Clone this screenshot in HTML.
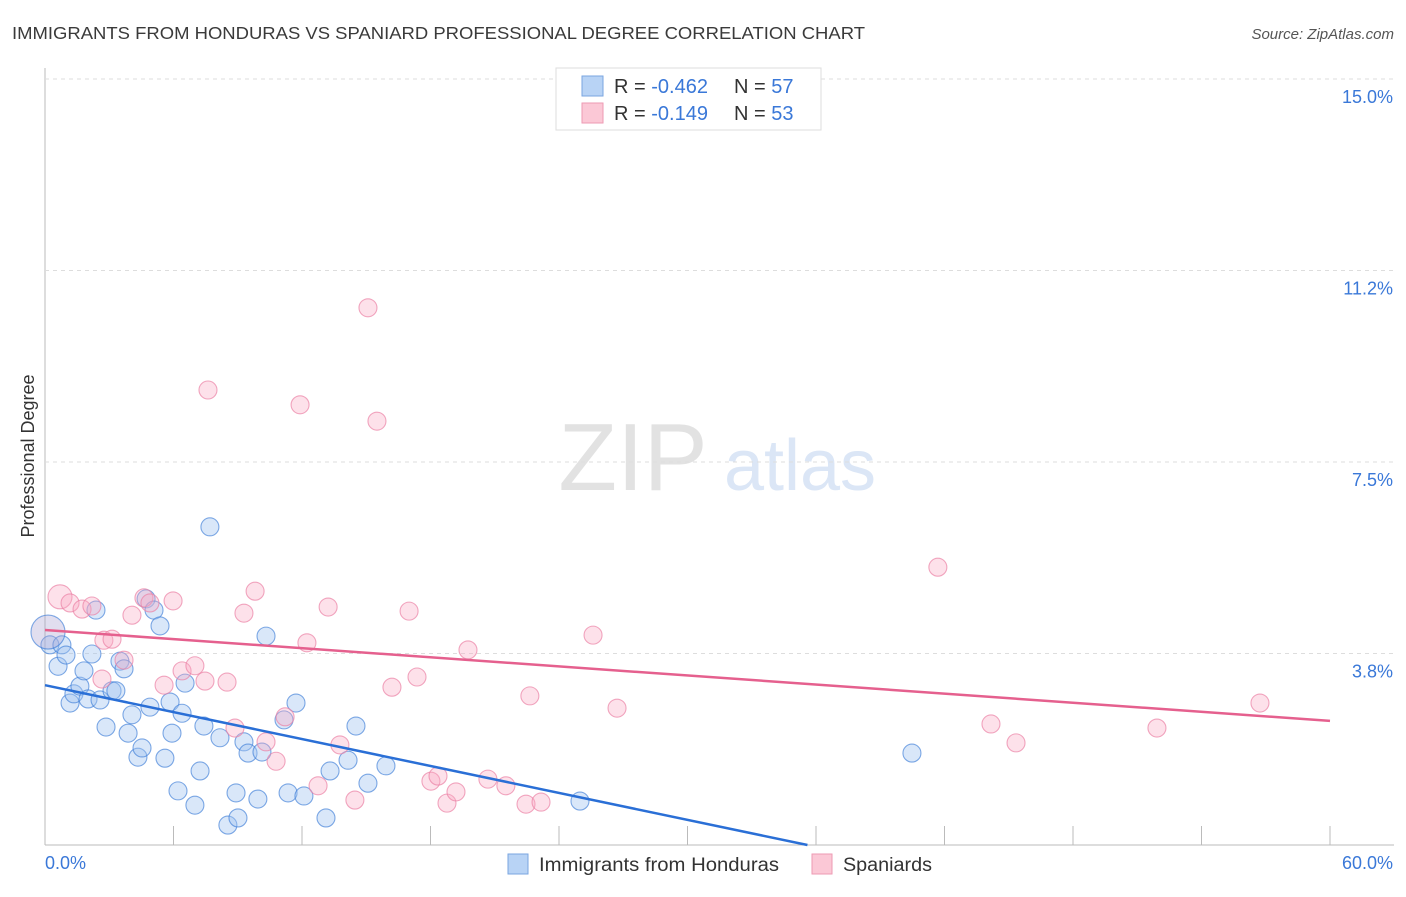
<!DOCTYPE html>
<html><head><meta charset="utf-8"><style>
body{margin:0;background:#fff;font-family:"Liberation Sans",sans-serif}
svg text{font-family:"Liberation Sans",sans-serif}
</style></head><body>
<svg id="chart" width="1406" height="892">
<text x="12" y="39" font-size="17.5" fill="#3a3a3a" textLength="853" lengthAdjust="spacingAndGlyphs">IMMIGRANTS FROM HONDURAS VS SPANIARD PROFESSIONAL DEGREE CORRELATION CHART</text>
<text x="1394" y="39" font-size="15" fill="#555" text-anchor="end" font-style="italic">Source: ZipAtlas.com</text>
<text x="633" y="490" font-size="96" fill="#e2e2e2" font-family="Liberation Serif" text-anchor="middle">ZIP</text>
<text x="800" y="490" font-size="72" fill="#dbe6f6" text-anchor="middle">atlas</text>
<text transform="translate(34,456) rotate(-90)" font-size="18" fill="#333" text-anchor="middle">Professional Degree</text>
<g id="grid"></g><g id="pts"></g><g id="lines"></g>
<g>
<rect x="556" y="68" width="265" height="62" fill="#fff" stroke="#ddd"/>
<rect x="582" y="76" width="21" height="20" fill="#b8d3f5" stroke="#7aa6e0"/>
<rect x="582" y="103" width="21" height="20" fill="#fbc8d6" stroke="#ee9ab3"/>
<text x="614" y="93" font-size="20" fill="#333">R = <tspan fill="#3a78d8">-0.462</tspan></text>
<text x="734" y="93" font-size="20" fill="#333">N = <tspan fill="#3a78d8">57</tspan></text>
<text x="614" y="120" font-size="20" fill="#333">R =  <tspan fill="#3a78d8">-0.149</tspan></text>
<text x="734" y="120" font-size="20" fill="#333">N = <tspan fill="#3a78d8">53</tspan></text>
</g>
<g>
<rect x="508" y="854" width="20" height="20" fill="#b8d3f5" stroke="#7aa6e0"/>
<text x="539" y="871" font-size="19" fill="#333" textLength="240" lengthAdjust="spacingAndGlyphs">Immigrants from Honduras</text>
<rect x="812" y="854" width="20" height="20" fill="#fbc8d6" stroke="#ee9ab3"/>
<text x="843" y="871" font-size="19" fill="#333" textLength="89" lengthAdjust="spacingAndGlyphs">Spaniards</text>
</g>
</svg>
<script>
const yTicks=[3.75,7.5,11.25,15];
const yTickLabels=["3.8%","7.5%","11.2%","15.0%"];
const xTickLabels=["0.0%","60.0%"];
const blueX=[0.23,0.61,0.79,0.98,1.17,1.35,1.63,1.82,2.01,2.19,2.38,2.57,2.85,3.13,3.31,3.50,3.69,3.88,4.06,4.34,4.53,4.72,4.90,5.09,5.37,5.60,5.84,5.93,6.21,6.40,6.54,7.00,7.24,7.42,7.70,8.17,8.54,8.92,9.01,9.29,9.48,9.94,10.13,10.32,11.16,11.35,11.72,12.09,13.12,13.31,14.15,14.52,15.08,15.92,24.98,40.48,0.14];
const blueY=[3.92,3.50,3.92,3.72,2.78,2.96,3.11,3.41,2.86,3.74,4.60,2.84,2.31,3.02,3.02,3.60,3.45,2.19,2.55,1.72,1.90,4.82,2.70,4.60,4.29,1.70,2.80,2.19,1.06,2.58,3.17,0.78,1.45,2.33,6.23,2.10,0.39,1.02,0.53,2.02,1.80,0.90,1.82,4.09,2.45,1.02,2.78,0.96,0.53,1.45,1.66,2.33,1.21,1.55,0.86,1.80,4.17];
const pinkX=[0.70,1.17,1.73,2.19,2.75,3.13,2.66,3.69,4.06,4.62,4.90,5.56,5.98,6.40,7.00,7.47,7.61,8.50,8.87,9.29,9.81,10.32,10.79,11.21,11.91,12.23,12.75,13.22,13.77,14.47,15.08,15.50,16.20,17.00,17.37,18.02,18.35,18.77,19.19,19.75,20.68,21.52,22.46,22.64,23.16,25.59,26.71,41.69,44.17,45.34,51.92,56.73,24.75];
const pinkY=[4.86,4.74,4.62,4.68,4.01,4.03,3.25,3.62,4.50,4.84,4.74,3.13,4.78,3.41,3.51,3.21,8.91,3.19,2.29,4.54,4.97,2.02,1.64,2.51,8.62,3.96,1.16,4.66,1.96,0.88,10.52,8.30,3.09,4.58,3.29,1.25,1.35,0.82,1.04,3.82,1.29,1.16,0.80,2.92,0.84,4.11,2.68,5.44,2.37,2.00,2.29,2.78,14.88];
const blueTrend=[[0,3.13],[35.6,0]];
const pinkTrend=[[0,4.21],[60,2.43]];
const X=v=>45+v/60*1285, Y=v=>845-v/15*766;
const NS="http://www.w3.org/2000/svg";
function mk(t,a,p){const e=document.createElementNS(NS,t);for(const k in a)e.setAttribute(k,a[k]);p.appendChild(e);return e;}
const g=document.getElementById('grid');
let ax=mk('line',{x1:45,y1:68,x2:45,y2:845,stroke:'#bbb'},g);


let bx=mk('line',{x1:45,y1:845,x2:1394,y2:845,stroke:'#bbb'},g);


yTicks.forEach((t,i)=>{
 const l=mk('line',{x1:45,y1:Y(t),x2:1394,y2:Y(t),stroke:'#ddd','stroke-dasharray':'4,4'},g);
 
 
 const tx=mk('text',{x:1393,y:Y(t)+24,'font-size':18,fill:'#3a78d8','text-anchor':'end'},g);
 tx.textContent=yTickLabels[i];
 
 
});
for(let i=1;i<=10;i++){const x=X(i*6);
 const l=mk('line',{x1:x,y1:826,x2:x,y2:845,stroke:'#bbb'},g);
 
 }
[[0,45,'start'],[1,1393,'end']].forEach(([i,x,a])=>{
 const tx=mk('text',{x:x,y:869,'font-size':18,fill:'#3a78d8','text-anchor':a},g);
 tx.textContent=xTickLabels[i];
 
 });
const p=document.getElementById('pts');
blueX.forEach((v,i)=>{const r=i===blueX.length-1?17:9;
 const c=mk('circle',{cx:X(v),cy:Y(blueY[i]),r:r,fill:i===blueX.length-1?'rgba(170,160,210,0.35)':'rgba(160,195,240,0.4)',stroke:'rgba(60,125,215,0.65)','stroke-width':1.1},p);
 
 });
pinkX.forEach((v,i)=>{const r=i===0?12:9;
 const c=mk('circle',{cx:X(v),cy:Y(pinkY[i]),r:r,fill:'rgba(248,170,195,0.35)',stroke:'rgba(235,130,165,0.7)','stroke-width':1.1},p);
 
 });
const L=document.getElementById('lines');
let bl=mk('line',{x1:X(blueTrend[0][0]),y1:Y(blueTrend[0][1]),x2:X(blueTrend[1][0]),y2:Y(blueTrend[1][1]),stroke:'#2a6fd6','stroke-width':2.5},L);


let pl=mk('line',{x1:X(pinkTrend[0][0]),y1:Y(pinkTrend[0][1]),x2:X(pinkTrend[1][0]),y2:Y(pinkTrend[1][1]),stroke:'#e5608e','stroke-width':2.5},L);


</script>
</body></html>
